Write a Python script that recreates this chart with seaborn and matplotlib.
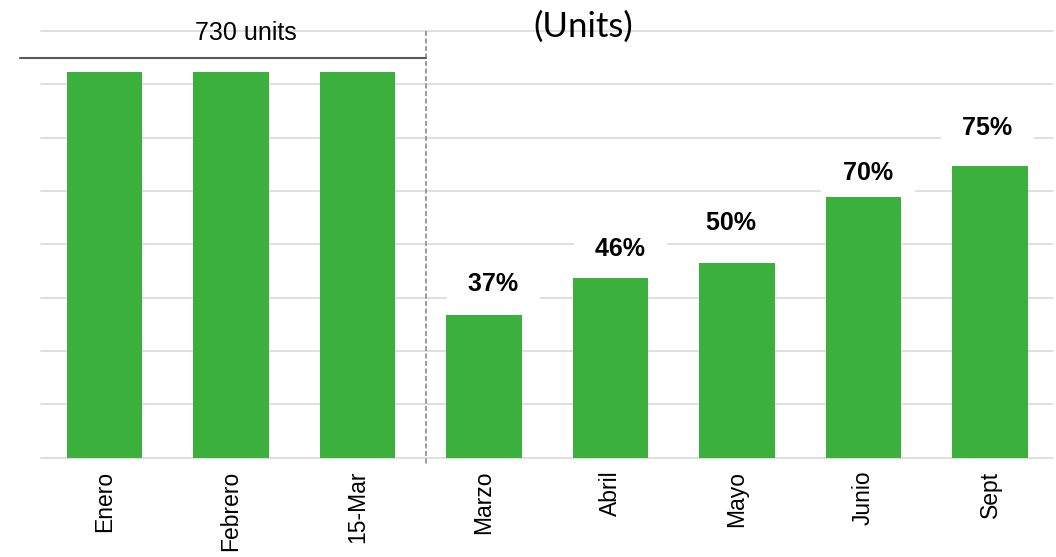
import matplotlib
matplotlib.use("Agg")
import matplotlib.pyplot as plt
import seaborn as sns
import pandas as pd

# ---- data ----
categories = ["Enero", "Febrero", "15-Mar", "Marzo", "Abril", "Mayo", "Junio", "Sept"]
units = [724, 724, 724, 267, 336, 364, 489, 546]
pct_labels = ["", "", "", "37%", "46%", "50%", "70%", "75%"]
total_label = "730 units"
title_text = "(Units)"

# ---- style ----
sns.set_theme(style="white")
plt.rcParams['font.family'] = ['Liberation Sans', 'DejaVu Sans']

W, H = 1056, 557
fig = plt.figure(figsize=(W / 100, H / 100), dpi=100)
ax = fig.add_axes([41.25 / W, (H - 457.5) / H, 1012 / W, 426.5 / H])

df = pd.DataFrame({"cat": categories, "units": units})
sns.barplot(data=df, x="cat", y="units", color="#3bb03c", saturation=1,
            width=0.6, linewidth=0, ax=ax)

ax.set_xlim(-0.5, 7.5)
ax.set_ylim(0, 800)
ax.set_yticks(range(0, 801, 100))
ax.set_yticklabels([])
ax.yaxis.grid(True, color="#d9d9d9", linewidth=1.2)
ax.xaxis.grid(False)
ax.set_axisbelow(True)
for s in ax.spines.values():
    s.set_visible(False)
ax.tick_params(axis="y", length=0)
ax.tick_params(axis="x", length=0, pad=9.5, labelsize=16.5, labelrotation=90,
               labelcolor="black")
ax.set_xlabel("")
ax.set_ylabel("")
for gl in ax.get_ygridlines():
    gl.set_clip_on(False)

# percentage labels with white boxes
label_offsets = [(0, 0), (0, 0), (0, 0), (9.5, 24), (9.7, 22.3), (-5.5, 33.3),
                 (4.5, 16.7), (-2.5, 31.3)]
for i, (lab, v) in enumerate(zip(pct_labels, units)):
    if not lab:
        continue
    dx, dy = label_offsets[i]
    ax.annotate(f"  {lab}  ", xy=(i, v), xytext=(dx, dy),
                textcoords="offset pixels", ha="center", va="baseline",
                fontsize=18, fontweight="bold", color="black",
                bbox=dict(boxstyle="square,pad=0.3", fc="white", ec="none"),
                zorder=3)

# separator dashed line and bracket line
ax.plot([2.54, 2.54], [800, -14], linestyle=(0, (3, 1.5)), color="#8c8c8c",
        linewidth=1.2, clip_on=False, zorder=4)
ax.plot([-0.668, 2.54], [750, 750], color="#595959", linewidth=1.5,
        clip_on=False, zorder=4)

ax.text(1.119, 783, total_label, ha="center", va="baseline", fontsize=18,
        color="black", zorder=5)
ax.text(3.783, 788.7, title_text, ha="center", va="baseline", fontsize=25,
        color="black", family=["Lato", "DejaVu Sans"], zorder=5)

fig.savefig("out.png", dpi=100)
